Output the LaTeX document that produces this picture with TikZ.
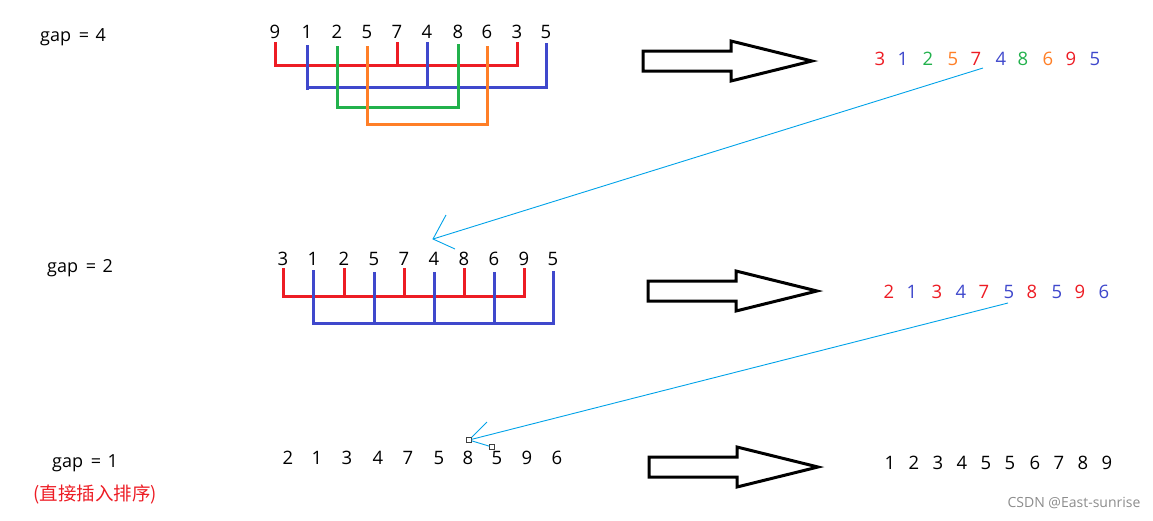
\documentclass[tikz,border=0pt]{standalone}
\usepackage{fontspec}
\setmainfont{Open Sans}
\newfontfamily\cjkfont{Noto Sans CJK SC}
\usetikzlibrary{positioning}
\definecolor{pred}{RGB}{237,28,36}
\definecolor{pblue}{RGB}{63,72,204}
\definecolor{pgreen}{RGB}{34,177,76}
\definecolor{porange}{RGB}{255,127,39}
\definecolor{pcyan}{RGB}{0,162,232}
\tikzset{
  pics/bigarrow/.style={code={
    \draw[line width=3pt, miter limit=20] (1,-10) -- (89,-10) -- (89,-20) -- (170,0) -- (89,20) -- (89,10) -- (1,10) -- cycle;
  }}
}
\begin{document}
\begin{tikzpicture}[
    x=1pt, y=-1pt,
    every node/.style={font=\fontsize{18.5}{20}\selectfont, inner sep=0pt},
    gaplabel/.style={anchor=base west, font=\fontsize{18}{20}\selectfont},
    bracket/.style={line width=3pt},
    hint/.style={pcyan, line width=0.9pt},
    handle/.style={draw=black!75, fill=white, line width=0.8pt, minimum size=4.5pt}
]
\useasboundingbox (0,0) rectangle (1153,520);

% labels on the left
\node[gaplabel] (g4) at (40,41) {gap\hspace{3pt} =\hspace{2pt} 4};
\node[gaplabel] (g2) at (47,272) {gap\hspace{3pt} =\hspace{2pt} 2};
\node[gaplabel] (g1) at (52,467) {gap\hspace{3pt} =\hspace{2pt} 1};
\node[text=pred, font=\cjkfont\fontsize{18.5}{20}\selectfont] (note) at (95,494) {(直接插入排序)};

% gap = 4
\foreach \d/\x [count=\i] in {9/275,1/307,2/337,5/367,7/397,4/427,8/458,6/487,3/517,5/546}
  \node (t\i) at (\x,32) {\d};
\draw[bracket, pred] (t1 |- 0,42) -- (t1 |- 0,65) -- (t9 |- 0,65) -- (t9 |- 0,42);
\draw[bracket, pred] (t5 |- 0,42) -- (t5 |- 0,65);
\draw[bracket, pblue] (t2 |- 0,45) -- (t2 |- 0,90);
\draw[bracket, pblue] (t2 |- 0,87) -- (t10 |- 0,87) -- (t10 |- 0,43);
\draw[bracket, pblue] (t6 |- 0,42) -- (t6 |- 0,87);
\draw[bracket, pgreen] (t3 |- 0,46) -- (t3 |- 0,107) -- (t7 |- 0,107) -- (t7 |- 0,44);
\draw[bracket, porange] (t4 |- 0,46) -- (t4 |- 0,124) -- (t8 |- 0,124) -- (t8 |- 0,46);

% gap = 2
\foreach \d/\x [count=\i] in {3/283,1/313,2/344,5/374,7/404,4/434,8/464,6/494,9/524,5/553}
  \node (m\i) at (\x,259) {\d};
\draw[bracket, pred] (m1 |- 0,268) -- (m1 |- 0,296) -- (m9 |- 0,296) -- (m9 |- 0,268);
\foreach \i in {3,5,7}
  \draw[bracket, pred] (m\i |- 0,268) -- (m\i |- 0,298);
\draw[bracket, pblue] (m2 |- 0,270) -- (m2 |- 0,325);
\draw[bracket, pblue] (m2 |- 0,323) -- (m10 |- 0,323) -- (m10 |- 0,271);
\foreach \i in {4,6,8}
  \draw[bracket, pblue] (m\i |- 0,272) -- (m\i |- 0,325);

% gap = 1
\foreach \d/\x [count=\i] in {2/288,1/317,3/347,4/378,7/408,5/439,8/468,5/497,9/527,6/557}
  \node (b\i) at (\x,458) {\d};

% results
\foreach \d/\x/\c [count=\i] in {3/880/pred,1/903/pblue,2/928/pgreen,5/953/porange,7/976/pred,4/1001/pblue,8/1023/pgreen,6/1048/porange,9/1071/pred,5/1095/pblue}
  \node[text=\c] (tr\i) at (\x,59) {\d};
\foreach \d/\x/\c [count=\i] in {2/889/pred,1/912/pblue,3/937/pred,4/961/pblue,7/984/pred,5/1009/pblue,8/1032/pred,5/1057/pblue,9/1080/pred,6/1104/pblue}
  \node[text=\c] (mr\i) at (\x,292) {\d};
\foreach \d/\x [count=\i] in {1/890,2/914,3/938,4/962,5/986,5/1010,6/1035,7/1059,8/1083,9/1107}
  \node (br\i) at (\x,463) {\d};

% block arrows
\pic at (642,61) {bigarrow};
\pic at (647,291) {bigarrow};
\pic at (648,467) {bigarrow};

% hint lines
\coordinate (h1s) at (983,68);
\coordinate (h1e) at (433,239);
\coordinate (h1a) at (446,215);
\coordinate (h1b) at (455,249);
\draw[hint] (h1s) -- (h1e);
\draw[hint] (h1a) -- (h1e) -- (h1b);
\coordinate (h2s) at (1008,303);
\coordinate (h2a) at (487,422);
\node[handle] (h2e) at (469,440) {};
\node[handle] (h2b) at (492,447) {};
\draw[hint] (h2s) -- (h2e);
\draw[hint] (h2a) -- (h2e) -- (h2b);

% watermark
\node[text=black!45, font=\fontsize{14}{16}\selectfont] (mark) at (1074,503) {CSDN @East-sunrise};
\end{tikzpicture}
\end{document}
